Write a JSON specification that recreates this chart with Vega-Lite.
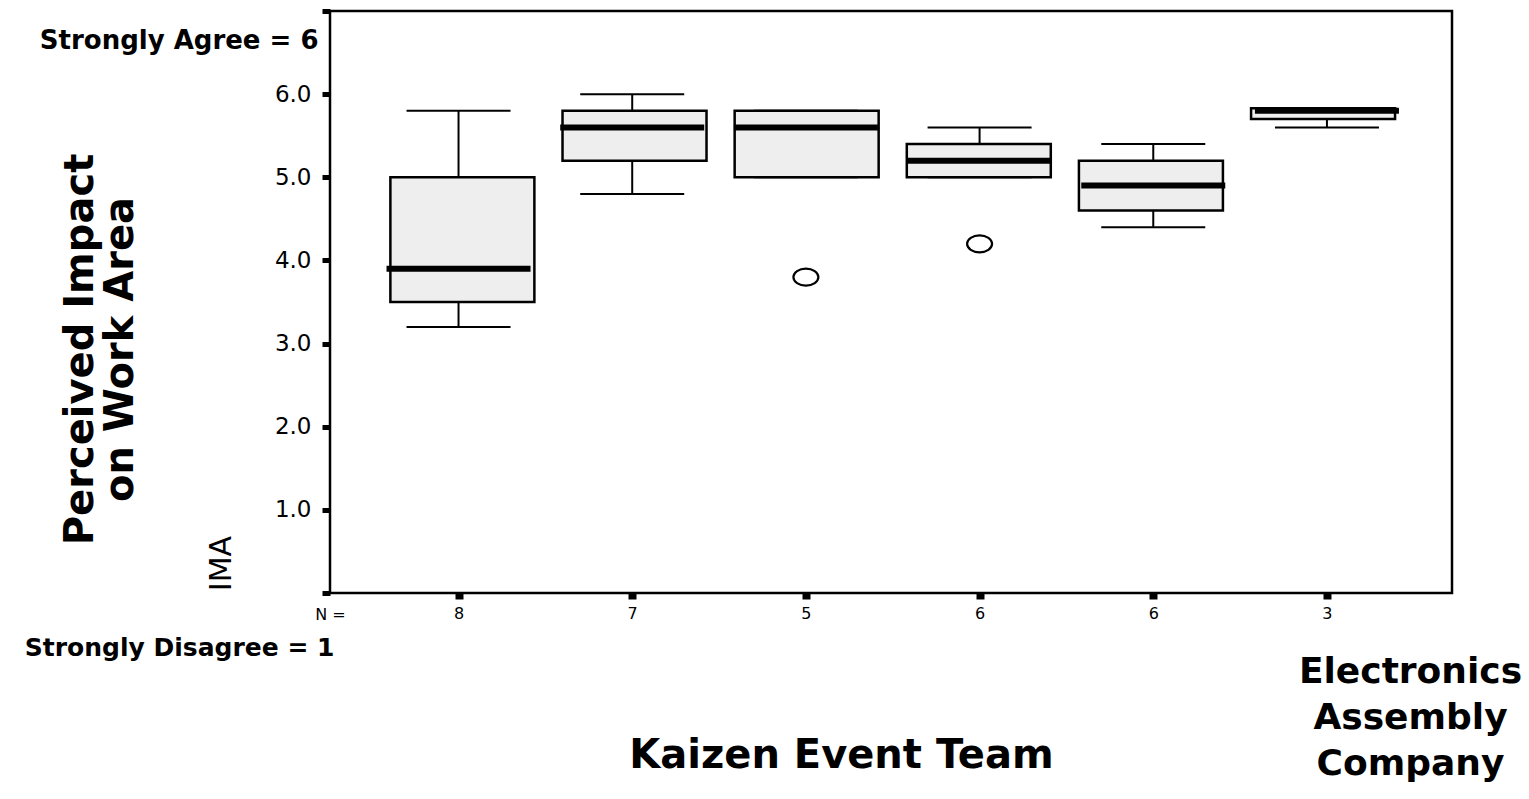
{
  "$schema": "https://vega.github.io/schema/vega-lite/v6.json",
  "width": 1122,
  "height": 582,
  "autosize": "none",
  "padding": {"left": 330, "top": 11, "right": 77, "bottom": 206},
  "background": "white",
  "config": {
    "font": "DejaVu Sans",
    "view": {"stroke": "black", "strokeWidth": 2.5, "fill": "white"},
    "axis": {
      "grid": false,
      "domain": false,
      "labelColor": "black",
      "tickColor": "black",
      "titleColor": "black",
      "titleFont": "DejaVu Sans",
      "labelFont": "DejaVu Sans"
    }
  },
  "datasets": {
    "boxes": [
      {"team": 1, "n": 8, "lo": 3.2, "q1": 3.5, "med": 3.9, "q3": 5.0, "hi": 5.8},
      {"team": 2, "n": 7, "lo": 4.8, "q1": 5.2, "med": 5.6, "q3": 5.8, "hi": 6.0},
      {"team": 3, "n": 5, "lo": 5.0, "q1": 5.0, "med": 5.6, "q3": 5.8, "hi": 5.8},
      {"team": 4, "n": 6, "lo": 5.0, "q1": 5.0, "med": 5.2, "q3": 5.4, "hi": 5.6},
      {"team": 5, "n": 6, "lo": 4.4, "q1": 4.6, "med": 4.9, "q3": 5.2, "hi": 5.4},
      {"team": 6, "n": 3, "lo": 5.6, "q1": 5.7, "med": 5.8, "q3": 5.83, "hi": 5.83}
    ],
    "outliers": [
      {"team": 3, "value": 3.8},
      {"team": 4, "value": 4.2}
    ]
  },
  "resolve": {"scale": {"x": "independent", "y": "independent"}, "axis": {"x": "independent", "y": "independent"}},
  "layer": [
    {
      "data": {"name": "boxes"},
      "mark": {"type": "rule", "color": "black", "strokeWidth": 2},
      "encoding": {
        "x": {
          "field": "team", "type": "quantitative",
          "scale": {"domain": [0.26, 6.72], "nice": false, "zero": false},
          "axis": {
            "orient": "bottom",
            "values": [1, 2, 3, 4, 5, 6],
            "labelExpr": "['', '8', '7', '5', '6', '6', '3'][datum.value]",
            "labelFontSize": 16,
            "labelPadding": 6,
            "tickSize": 6,
            "tickWidth": 8,
            "title": "Kaizen Event Team",
            "titleFontSize": 40,
            "titleFontWeight": "bold",
            "titleX": 511,
            "titleY": 174,
            "titleAlign": "center",
            "titleBaseline": "alphabetic",
            "titleAngle": 0
          }
        },
        "y": {
          "field": "lo", "type": "quantitative",
          "scale": {"domain": [0, 7], "nice": false, "zero": false},
          "axis": {
            "orient": "left",
            "values": [0, 1, 2, 3, 4, 5, 6, 7],
            "labelExpr": "datum.value >= 1 && datum.value <= 6 ? format(datum.value, '.1f') : ''",
            "labelFontSize": 23,
            "labelPadding": 11,
            "tickSize": 8,
            "tickWidth": 5,
            "title": "IMA",
            "titleFontSize": 30,
            "titleFontWeight": "normal",
            "titleAngle": 270,
            "titleX": -109,
            "titleY": 552,
            "titleAlign": "center",
            "titleBaseline": "middle"
          }
        },
        "y2": {"field": "hi"}
      }
    },
    {
      "data": {"name": "boxes"},
      "mark": {"type": "bar", "size": 144, "fill": "#eeeeee", "stroke": "black", "strokeWidth": 2.5},
      "encoding": {
        "x": {
          "field": "team", "type": "quantitative",
          "scale": {"domain": [0.26, 6.72], "nice": false, "zero": false},
          "axis": {
            "orient": "bottom",
            "labels": false, "ticks": false, "domain": false,
            "title": "N =",
            "titleFontSize": 16,
            "titleFontWeight": "normal",
            "titleX": 0,
            "titleY": 26,
            "titleAlign": "center",
            "titleBaseline": "alphabetic"
          }
        },
        "y": {
          "field": "q1", "type": "quantitative",
          "scale": {"domain": [0, 7], "nice": false, "zero": false},
          "axis": {
            "orient": "left",
            "labels": false, "ticks": false, "domain": false,
            "title": ["Perceived Impact", "on Work Area"],
            "titleFontSize": 40,
            "titleFontWeight": "bold",
            "titleLineHeight": 40,
            "titleAngle": 270,
            "titleX": -250,
            "titleY": 338,
            "titleAlign": "center",
            "titleBaseline": "middle"
          }
        },
        "y2": {"field": "q3"}
      }
    },
    {
      "data": {"name": "boxes"},
      "mark": {"type": "tick", "orient": "horizontal", "size": 144, "thickness": 6, "color": "black", "opacity": 1},
      "encoding": {
        "x": {
          "field": "team", "type": "quantitative",
          "scale": {"domain": [0.26, 6.72], "nice": false, "zero": false},
          "axis": {
            "orient": "top",
            "labels": false, "ticks": false, "domain": false,
            "title": "Strongly Agree = 6",
            "titleFontSize": 26,
            "titleFontWeight": "bold",
            "titleX": -12,
            "titleY": 37,
            "titleAlign": "right",
            "titleBaseline": "alphabetic"
          }
        },
        "y": {
          "field": "med", "type": "quantitative",
          "scale": {"domain": [0, 7], "nice": false, "zero": false},
          "axis": null
        }
      }
    },
    {
      "data": {"name": "boxes"},
      "mark": {"type": "tick", "orient": "horizontal", "size": 104, "thickness": 2, "color": "black", "opacity": 1},
      "encoding": {
        "x": {
          "field": "team", "type": "quantitative",
          "scale": {"domain": [0.26, 6.72], "nice": false, "zero": false},
          "axis": {
            "orient": "bottom",
            "labels": false, "ticks": false, "domain": false,
            "title": "Strongly Disagree = 1",
            "titleFontSize": 25,
            "titleFontWeight": "bold",
            "titleX": 4,
            "titleY": 62,
            "titleAlign": "right",
            "titleBaseline": "alphabetic"
          }
        },
        "y": {
          "field": "lo", "type": "quantitative",
          "scale": {"domain": [0, 7], "nice": false, "zero": false},
          "axis": null
        }
      }
    },
    {
      "data": {"name": "boxes"},
      "mark": {"type": "tick", "orient": "horizontal", "size": 104, "thickness": 2, "color": "black", "opacity": 1},
      "encoding": {
        "x": {
          "field": "team", "type": "quantitative",
          "scale": {"domain": [0.26, 6.72], "nice": false, "zero": false},
          "axis": null
        },
        "y": {
          "field": "hi", "type": "quantitative",
          "scale": {"domain": [0, 7], "nice": false, "zero": false},
          "axis": null
        }
      }
    },
    {
      "data": {"name": "outliers"},
      "mark": {
        "type": "point",
        "shape": "M 1 0 C 1 0.3755 0.5523 0.68 0 0.68 C -0.5523 0.68 -1 0.3755 -1 0 C -1 -0.3755 -0.5523 -0.68 0 -0.68 C 0.5523 -0.68 1 -0.3755 1 0 Z",
        "size": 625,
        "filled": false,
        "stroke": "black",
        "strokeWidth": 2.2,
        "opacity": 1
      },
      "encoding": {
        "x": {
          "field": "team", "type": "quantitative",
          "scale": {"domain": [0.26, 6.72], "nice": false, "zero": false},
          "axis": {
            "orient": "bottom",
            "labels": false, "ticks": false, "domain": false,
            "title": ["Electronics", "Assembly", "Company"],
            "titleFontSize": 36,
            "titleFontWeight": "bold",
            "titleLineHeight": 46,
            "titleX": 1080,
            "titleY": 89,
            "titleAlign": "center",
            "titleBaseline": "alphabetic"
          }
        },
        "y": {
          "field": "value", "type": "quantitative",
          "scale": {"domain": [0, 7], "nice": false, "zero": false},
          "axis": null
        }
      }
    }
  ]
}
